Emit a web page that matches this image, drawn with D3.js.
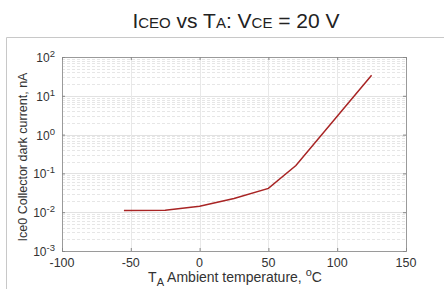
<!DOCTYPE html>
<html>
<head>
<meta charset="utf-8">
<script src="https://cdnjs.cloudflare.com/ajax/libs/d3/7.8.5/d3.min.js"></script>
<style>
  body { margin: 0; background: #fff; }
  text { font-family: "Liberation Sans", Arial, sans-serif; }
</style>
</head>
<body>
<div id="chart"></div>
<script>
// values
var temps = [-55, -25, 0, 25, 50, 70, 125];
var iceo = [0.011, 0.0112, 0.0143, 0.0225, 0.041, 0.16, 34];
var xTicks = [-100, -50, 0, 50, 100, 150];
var yExps = [-3, -2, -1, 0, 1, 2];

var width = 444, height = 289;
var margin = {top: 57, right: 38, bottom: 38, left: 62};

var svg = d3.select("#chart").append("svg")
    .attr("width", width)
    .attr("height", height);

// outer frame (top + left)
svg.append("path")
    .attr("d", "M6.5," + height + "V37.5H" + width)
    .attr("fill", "none")
    .attr("stroke", "#c8c8c8");

// title
var title = svg.append("text")
    .attr("x", 236)
    .attr("y", 28)
    .attr("text-anchor", "middle")
    .attr("font-size", 21)
    .attr("fill", "#222");
title.append("tspan").text("I");
title.append("tspan").attr("font-size", 15).text("CEO");
title.append("tspan").text(" vs T");
title.append("tspan").attr("font-size", 15).text("A");
title.append("tspan").text(": V");
title.append("tspan").attr("font-size", 15).text("CE");
title.append("tspan").text(" = 20 V");

var x = d3.scaleLinear()
    .domain([-100, 150])
    .range([margin.left, width - margin.right]);
var y = d3.scaleLog()
    .domain([1e-3, 1e2])
    .range([height - margin.bottom, margin.top]);

var g = svg.append("g");

// minor grid (dashed)
var minor = [];
yExps.slice(0, -1).forEach(function(e){
    for (var k = 2; k <= 9; k++) minor.push(k * Math.pow(10, e));
});
g.selectAll(".minor").data(minor).enter().append("line")
    .attr("x1", x(-100)).attr("x2", x(150))
    .attr("y1", function(d){ return Math.round(y(d)) + 0.5; })
    .attr("y2", function(d){ return Math.round(y(d)) + 0.5; })
    .attr("stroke", "#e6e6e6")
    .attr("stroke-dasharray", "3,2");

// major grid
g.selectAll(".hmaj").data(yExps.slice(1, -1)).enter().append("line")
    .attr("x1", x(-100)).attr("x2", x(150))
    .attr("y1", function(d){ return Math.round(y(Math.pow(10, d))) + 0.5; })
    .attr("y2", function(d){ return Math.round(y(Math.pow(10, d))) + 0.5; })
    .attr("stroke", "#e2e2e2");
g.selectAll(".vmaj").data(xTicks.slice(1, -1)).enter().append("line")
    .attr("x1", function(d){ return Math.round(x(d)) + 0.5; })
    .attr("x2", function(d){ return Math.round(x(d)) + 0.5; })
    .attr("y1", y(1e2)).attr("y2", y(1e-3))
    .attr("stroke", "#e8e8e8");

// plot box
svg.append("rect")
    .attr("x", x(-100) + 0.5)
    .attr("y", y(1e2) + 0.5)
    .attr("width", x(150) - x(-100))
    .attr("height", y(1e-3) - y(1e2))
    .attr("fill", "none")
    .attr("stroke", "#9a9a9a");

// axes with inward ticks
function styleAxis(s){
    s.select(".domain").remove();
    s.selectAll("line").attr("stroke", "#888");
}
var yTickVals = yExps.map(function(e){ return Math.pow(10, e); });
svg.append("g").attr("transform", "translate(0," + y(1e-3) + ")")
    .call(d3.axisBottom(x).tickValues(xTicks).tickSize(-3).tickFormat("")).call(styleAxis);
svg.append("g").attr("transform", "translate(0," + y(1e2) + ")")
    .call(d3.axisTop(x).tickValues(xTicks).tickSize(-3).tickFormat("")).call(styleAxis);
svg.append("g").attr("transform", "translate(" + x(-100) + ",0)")
    .call(d3.axisLeft(y).tickValues(yTickVals).tickSize(-3).tickFormat("")).call(styleAxis);
svg.append("g").attr("transform", "translate(" + x(150) + ",0)")
    .call(d3.axisRight(y).tickValues(yTickVals).tickSize(-3).tickFormat("")).call(styleAxis);

// x tick labels
svg.selectAll(".xl").data(xTicks).enter().append("text")
    .attr("x", function(d){ return x(d); })
    .attr("y", y(1e-3) + 16)
    .attr("text-anchor", "middle")
    .attr("font-size", 12.5)
    .attr("fill", "#333")
    .text(function(d){ return d; });

// y tick labels 10^n
var yl = svg.selectAll(".yl").data(yExps).enter().append("text")
    .attr("x", x(-100) - 7)
    .attr("y", function(d){ return y(Math.pow(10, d)) + 5; })
    .attr("text-anchor", "end")
    .attr("font-size", 12)
    .attr("fill", "#333");
yl.append("tspan").text("10");
yl.append("tspan").attr("dy", -5).attr("font-size", 9.5).text(function(d){ return d; });

// axis titles
var xt = svg.append("text")
    .attr("x", 235)
    .attr("y", 282)
    .attr("text-anchor", "middle")
    .attr("font-size", 14)
    .attr("fill", "#333");
xt.append("tspan").text("T");
xt.append("tspan").attr("dy", 3.5).attr("font-size", 11).text("A");
xt.append("tspan").attr("dy", -3.5).text(" Ambient temperature, ");
xt.append("tspan").attr("dy", -6).attr("font-size", 11).text("o");
xt.append("tspan").attr("dy", 6).text("C");

svg.append("text")
    .attr("transform", "translate(27," + ((y(1e2) + y(1e-3)) / 2 + 3) + ") rotate(-90)")
    .attr("text-anchor", "middle")
    .attr("font-size", 12.5)
    .attr("fill", "#333")
    .text("Ice0 Collector dark current, nA");

// curve
var line = d3.line()
    .x(function(d, i){ return x(temps[i]); })
    .y(function(d){ return y(d); });
svg.append("path")
    .datum(iceo)
    .attr("d", line)
    .attr("fill", "none")
    .attr("stroke", "#a82424")
    .attr("stroke-width", 1.5);
</script>
</body>
</html>
